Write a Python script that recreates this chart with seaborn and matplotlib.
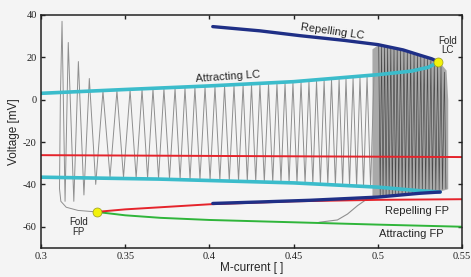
import numpy as np
import pandas as pd
import matplotlib
matplotlib.use("Agg")
import matplotlib.pyplot as plt
import seaborn as sns

# ---------------- data ----------------
# Attracting limit cycle (cyan): upper and lower branch
lc_att_x = [0.300, 0.350, 0.400, 0.450, 0.500, 0.520, 0.530, 0.536]
lc_att_up = [3.0, 4.8, 6.5, 8.5, 11.8, 13.5, 15.3, 17.8]
lc_att_lo_x = [0.300, 0.370, 0.450, 0.500, 0.525, 0.537]
lc_att_lo = [-36.6, -37.5, -39.3, -41.3, -43.0, -43.6]

# Repelling limit cycle (dark blue)
lc_rep_x = [0.402, 0.430, 0.454, 0.480, 0.500, 0.515, 0.525, 0.532, 0.536]
lc_rep_up = [34.5, 32.5, 30.2, 28.0, 26.0, 23.5, 21.0, 19.3, 17.8]
lc_rep_lo_x = [0.402, 0.430, 0.460, 0.500, 0.525, 0.537]
lc_rep_lo = [-49.0, -48.3, -47.5, -46.0, -44.2, -43.6]

# Fixed points
fp_mid_x = [0.300, 0.550]          # red horizontal branch
fp_mid_y = [-26.2, -27.1]
fp_rep_x = [0.333, 0.350, 0.371, 0.400, 0.450, 0.500, 0.550]   # repelling FP (red)
fp_rep_y = [-53.0, -51.8, -50.8, -49.4, -48.0, -47.3, -47.0]
fp_att_x = [0.333, 0.350, 0.371, 0.400, 0.450, 0.500, 0.550]   # attracting FP (green)
fp_att_y = [-53.0, -54.6, -55.8, -56.8, -57.9, -59.0, -60.0]

# Fold points
fold_x = [0.536, 0.333]
fold_y = [17.8, -53.0]

# Simulated trace (gray): initial approach + transient spikes
start_x = [0.333, 0.322, 0.315, 0.3118, 0.3110, 0.3115]
start_y = [-53.0, -52.3, -50.8, -48.0, -42.0, 0.0]
trans_x = [0.3125, 0.3143, 0.3162, 0.3195, 0.3222, 0.3255, 0.3287, 0.3325]
trans_y = [37.0, -48.0, 27.0, -48.0, 18.0, -45.0, 10.0, -40.0]

# Regular oscillation: peaks and troughs
peak_x = [0.3368, 0.3451, 0.3529, 0.3600, 0.3665, 0.3730, 0.3796, 0.3855, 0.3914,
          0.3974, 0.4033, 0.4090, 0.4146, 0.4200, 0.4250, 0.4300, 0.4351, 0.4401,
          0.4449, 0.4496, 0.4544, 0.4591, 0.4636, 0.4681, 0.4725, 0.4770, 0.4811,
          0.4853, 0.4894, 0.4936, 0.4977]
peak_y = [4.0, 4.2, 4.5, 4.8, 5.0, 5.2, 5.4, 5.6, 5.8, 6.0, 6.2, 6.4, 6.6, 6.8, 7.0,
          7.2, 7.4, 7.6, 7.8, 8.0, 8.2, 8.5, 8.8, 9.0, 9.3, 9.6, 9.9, 10.2, 10.5,
          10.8, 11.1]
trough_x = [0.3410, 0.3490, 0.3565, 0.3633, 0.3698, 0.3763, 0.3826, 0.3885, 0.3944,
            0.4004, 0.4062, 0.4118, 0.4173, 0.4225, 0.4275, 0.4326, 0.4376, 0.4425,
            0.4473, 0.4520, 0.4568, 0.4614, 0.4659, 0.4703, 0.4748, 0.4791, 0.4832,
            0.4874, 0.4915, 0.4957]
trough_y = [-36.6, -36.8, -37.0, -37.1, -37.2, -37.4, -37.5, -37.7, -37.8, -38.0,
            -38.1, -38.3, -38.4, -38.6, -38.7, -38.8, -39.0, -39.1, -39.2, -39.4,
            -39.6, -39.8, -40.0, -40.2, -40.4, -40.6, -40.8, -41.0, -41.2, -41.4]

# Dense bistable region
dense_x = [0.4965, 0.5000, 0.5100, 0.5200, 0.5300, 0.5360, 0.5405, 0.5415]
dense_top = [24.0, 26.0, 24.3, 22.4, 19.8, 18.3, 14.0, 0.0]
dense_bot = [-46.3, -45.8, -45.0, -44.4, -43.8, -43.3, -42.3, -42.0]
dpeak_x = [0.5005, 0.5022, 0.5040, 0.5058, 0.5077, 0.5096, 0.5115, 0.5135, 0.5155,
           0.5175, 0.5195, 0.5215, 0.5235, 0.5255, 0.5275, 0.5295, 0.5315, 0.5335,
           0.5355, 0.5375, 0.5395]
dpeak_y = [26.0, 25.7, 25.3, 25.0, 24.6, 24.3, 23.9, 23.5, 23.0, 22.6, 22.1, 21.6,
           21.1, 20.5, 19.9, 19.2, 18.5, 17.8, 17.0, 15.5, 13.0]
dtrough_y = [-46.0, -45.9, -45.7, -45.5, -45.3, -45.1, -44.9, -44.7, -44.5, -44.3,
             -44.1, -43.9, -43.7, -43.5, -43.3, -43.1, -42.9, -42.7, -42.5, -42.3,
             -42.0]

# Exit of the trace toward the attracting FP
exit_x = [0.4950, 0.4925, 0.4880, 0.4820, 0.4760, 0.4650]
exit_y = [-46.2, -47.5, -50.0, -54.0, -56.8, -57.9]

xticks = [0.3, 0.35, 0.4, 0.45, 0.5, 0.55]
xtick_labels = ["0.3", "0.35", "0.4", "0.45", "0.5", "0.55"]
yticks = [40, 20, 0, -20, -40, -60]

# ---------------- figure ----------------
sns.set_theme(style="ticks")
plt.rcParams["font.family"] = ["Liberation Sans", "DejaVu Sans"]
bg = "#f4f4f4"
fig = plt.figure(figsize=(4.71, 2.77), dpi=100, facecolor=bg)
ax = fig.add_axes([0.087, 0.105, 0.894, 0.841], facecolor=bg)

gray = "#8f8f8f"
# build trace in order
tx = list(start_x) + list(trans_x)
ty = list(start_y) + list(trans_y)
for i in range(len(peak_x)):
    tx.append(peak_x[i]); ty.append(peak_y[i])
    if i < len(trough_x):
        tx.append(trough_x[i]); ty.append(trough_y[i])
trace = pd.DataFrame({"x": tx, "y": ty, "o": range(len(tx))})
sns.lineplot(data=trace, x="x", y="y", sort=False, estimator=None, ax=ax,
             color=gray, lw=0.7)

# dense region
ax.fill_between(dense_x, dense_bot, dense_top, color="#a9a9a9", lw=0)
dx, dy = [], []
for i in range(len(dpeak_x)):
    dx.append(dpeak_x[i]); dy.append(dpeak_y[i])
    dx.append(dpeak_x[i] + 0.0009); dy.append(dtrough_y[i])
dense = pd.DataFrame({"x": dx, "y": dy})
sns.lineplot(data=dense, x="x", y="y", sort=False, estimator=None, ax=ax,
             color="#333333", lw=0.5, alpha=0.8)
sns.lineplot(x=exit_x, y=exit_y, sort=False, estimator=None, ax=ax, color=gray, lw=0.8)

# bifurcation branches
cyan = "#3bbccb"
navy = "#1f2f86"
red = "#e5232b"
green = "#2fb53a"
sns.lineplot(x=fp_mid_x, y=fp_mid_y, ax=ax, color=red, lw=1.4)
sns.lineplot(x=lc_att_x, y=lc_att_up, ax=ax, color=cyan, lw=2.6)
sns.lineplot(x=lc_att_lo_x, y=lc_att_lo, ax=ax, color=cyan, lw=2.6)
sns.lineplot(x=fp_att_x, y=fp_att_y, ax=ax, color=green, lw=1.4)
sns.lineplot(x=fp_rep_x, y=fp_rep_y, ax=ax, color=red, lw=1.4)
sns.lineplot(x=lc_rep_x, y=lc_rep_up, ax=ax, color=navy, lw=2.4)
sns.lineplot(x=lc_rep_lo_x, y=lc_rep_lo, ax=ax, color=navy, lw=2.4)
sns.scatterplot(x=fold_x, y=fold_y, ax=ax, color="#f2f20a", s=42,
                edgecolor="#9a9a20", linewidth=0.5, zorder=5)

# annotations
ax.text(0.473, 32.2, "Repelling LC", fontsize=8, rotation=-8, ha="center", va="center")
ax.text(0.411, 11.0, "Attracting LC", fontsize=8, rotation=4, ha="center", va="center")
ax.text(0.5415, 25.5, "Fold\nLC", fontsize=7, ha="center", va="center", linespacing=0.95)
ax.text(0.3225, -60.0, "Fold\nFP", fontsize=7, ha="center", va="center", linespacing=0.95)
ax.text(0.523, -52.7, "Repelling FP", fontsize=8, ha="center", va="center")
ax.text(0.520, -63.6, "Attracting FP", fontsize=8, ha="center", va="center")

ax.set_xlim(0.3, 0.55)
ax.set_ylim(-70, 40)
ax.set_xticks(xticks)
ax.set_xticklabels(xtick_labels, family="Liberation Serif", fontsize=7.5)
ax.set_yticks(yticks)
ax.set_yticklabels([str(v) for v in yticks], family="Liberation Serif", fontsize=7.5)
ax.tick_params(direction="in", length=3, width=1, top=True, right=True,
               colors="#222222", pad=3)
for s in ax.spines.values():
    s.set_color("#222222")
    s.set_linewidth(1.1)
ax.set_xlabel("M-current [ ]", fontsize=8.5, labelpad=1)
ax.set_ylabel("Voltage [mV]", fontsize=8.5, labelpad=2)

fig.savefig("out.png", dpi=100, facecolor=bg)
